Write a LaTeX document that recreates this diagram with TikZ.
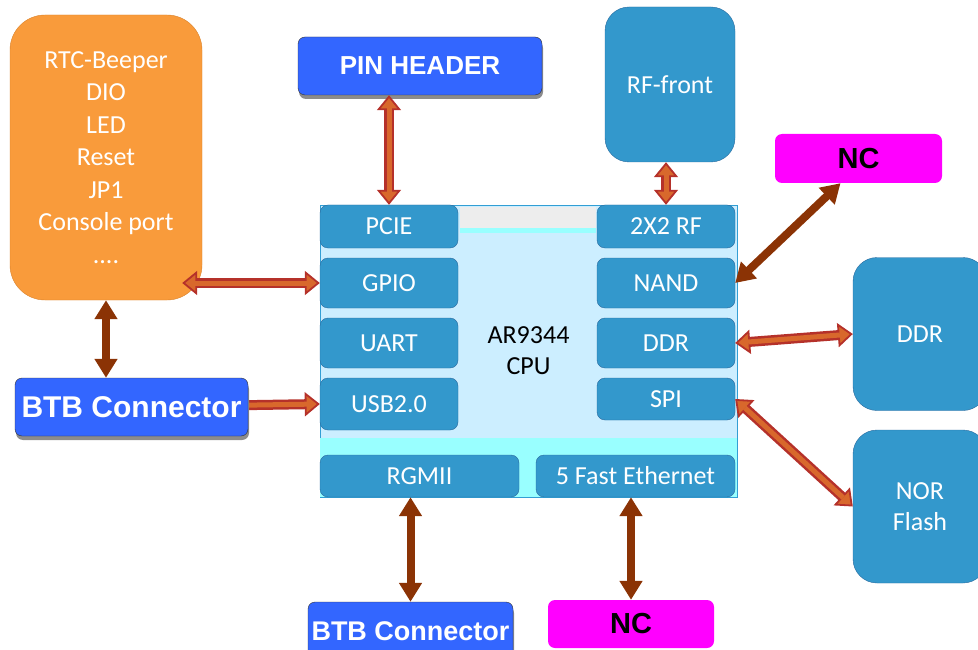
\documentclass[tikz,border=0pt]{standalone}
\usepackage{fontspec}
\setmainfont{Carlito}
\newfontfamily\conbold{Liberation Sans}
\usetikzlibrary{arrows.meta,shadows}
\definecolor{iobox}{HTML}{F99B3B}
\definecolor{ioedge}{HTML}{D9822B}
\definecolor{portblue}{HTML}{3398CC}
\definecolor{portedge}{HTML}{2A6A9E}
\definecolor{cpubg}{HTML}{CCEEFF}
\definecolor{cpuband}{HTML}{99FFFF}
\definecolor{conblue}{HTML}{3366FF}
\definecolor{ncpink}{HTML}{FF00FF}
\definecolor{arrowred}{HTML}{B5312A}
\definecolor{arroworange}{HTML}{D8682C}
\definecolor{arrowbrown}{HTML}{8B3305}
\pgfdeclarelayer{bg}
\pgfsetlayers{bg,main}
\begin{document}
\begin{tikzpicture}[x=1pt,y=-1pt,
  every node/.style={font=\fontsize{26}{31}\selectfont},
  port/.style={draw=portedge, fill=portblue, text=white, rounded corners=8pt, minimum width=138pt, inner sep=0pt},
  bigbox/.style={draw=portedge, fill=portblue, text=white, rounded corners=24pt, minimum width=134pt, minimum height=153pt, align=center},
  con/.style={draw=black!80, fill=conblue, text=white, rounded corners=7pt, inner sep=0pt, drop shadow={shadow xshift=1pt, shadow yshift=-4pt, fill=black!45, opacity=1}},
  nc/.style={fill=ncpink, rounded corners=7pt, inner sep=0pt, font=\conbold\bfseries\fontsize{29}{31}\selectfont},
  link/.style={line width=10pt, draw=arrowred, >={Triangle[length=15pt,width=24pt,fill=arroworange,line width=1.8pt]}, postaction={draw=arroworange, line width=5pt, arrows=-, shorten <=13pt, shorten >=13pt}},
  bus/.style={line width=8pt, draw=arrowbrown, >={Triangle[length=19pt,width=22pt]}}]
  \useasboundingbox (0,0) rectangle (978,650);

  \node[draw=ioedge, fill=iobox, text=white, rounded corners=35pt, minimum width=192pt, minimum height=285pt, align=center, font=\fontsize{26}{32.5}\selectfont] (io) at (106,157.5) {RTC-Beeper\\DIO\\LED\\Reset\\JP1\\Console port\\....};

  \node[draw=cyan!50!portblue, fill=cpubg, minimum width=417pt, minimum height=292pt, align=center] (cpu) at (528.5,351) {AR9344\\CPU};
  \fill[cpuband] ([yshift=59pt]cpu.south west) rectangle (cpu.south east);
  \fill[black!7] (460,207) rectangle (596,228);
  \fill[cpuband] (460,228) rectangle (596,233);

  \node[port, minimum height=43pt] (pcie) at (389,226.5) {PCIE};
  \node[port, minimum height=50pt] (gpio) at (389,283) {GPIO};
  \node[port, minimum height=50pt] (uart) at (389,343) {UART};
  \node[port, minimum height=52pt] (usb) at (389,404) {USB2.0};
  \node[port, minimum height=43pt] (rf) at (666,226.5) {2X2 RF};
  \node[port, minimum height=50pt] (nand) at (666,283) {NAND};
  \node[port, minimum height=50pt] (ddr) at (666,343) {DDR};
  \node[port, minimum height=42pt] (spi) at (666,399) {SPI};
  \node[port, minimum width=199pt, minimum height=42pt] (rgmii) at (419.5,476) {RGMII};
  \node[port, minimum width=199pt, minimum height=42pt] (eth) at (635.5,476) {5 Fast Ethernet};

  \node[bigbox, minimum width=130pt, minimum height=155pt] (front) at (670,84.5) {RF-front};
  \node[bigbox] (mem) at (920,334) {DDR};
  \node[bigbox] (nor) at (920,506.5) {NOR\\Flash};

  \node[con, minimum width=244pt, minimum height=58pt, font=\conbold\bfseries\fontsize{26}{31}\selectfont] (pin) at (420,66) {PIN HEADER};
  \node[con, minimum width=233pt, minimum height=58pt, font=\conbold\bfseries\fontsize{30}{31}\selectfont] (btbl) at (131.5,407) {BTB Connector};
  \node[con, minimum width=205pt, minimum height=58pt, font=\conbold\bfseries\fontsize{27}{31}\selectfont] (btbb) at (410.5,631) {BTB Connector};
  \node[nc, minimum width=167pt, minimum height=49pt] (nct) at (858.5,158.5) {NC};
  \node[nc, minimum width=166pt, minimum height=48pt] (ncb) at (631,624) {NC};

  \draw[link,<->] (pcie.north) -- (pcie.north |- pin.south);
  \draw[link,<->] (rf.north) -- (rf.north |- front.south);
  \draw[link,<->] (gpio.west) -- ([xshift=-20pt]io.east |- gpio.west);
  \begin{pgfonlayer}{bg}
    \draw[link,<->] (btbl.center) -- (usb.west);
  \end{pgfonlayer}
  \draw[link,<->] (ddr.east) -- (mem.west);
  \draw[link,<->] (spi.east) -- (nor.west);
  \draw[bus,<->] (nand.east) -- ([xshift=-18pt]nct.south);
  \draw[bus,<->] (io.south) -- (io.south |- btbl.north);
  \draw[bus,<->] (btbb.north) -- (btbb.north |- rgmii.south);
  \draw[bus,<->] (ncb.north) -- (ncb.north |- eth.south);
\end{tikzpicture}
\end{document}
